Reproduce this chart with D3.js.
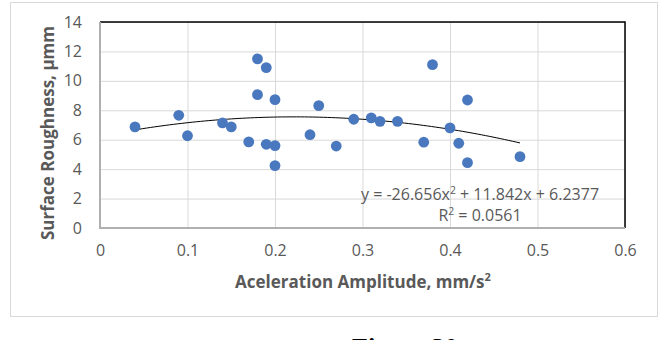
<!DOCTYPE html>
<html>
<head>
<meta charset="utf-8">
<script src="https://cdn.jsdelivr.net/npm/d3@7"></script>
<style>
  html, body { margin: 0; padding: 0; background: #fff; }
  svg { display: block; font-family: 'Open Sans', sans-serif; }
</style>
</head>
<body>
<svg id="chart"></svg>
<script>
'use strict';

// acceleration amplitude (mm/s^2) and surface roughness values
const accel = [0.04, 0.09, 0.10, 0.14, 0.15, 0.17, 0.18, 0.18, 0.19, 0.19, 0.20, 0.20, 0.20,
  0.24, 0.25, 0.27, 0.29, 0.31, 0.32, 0.34, 0.37, 0.38, 0.40, 0.41, 0.42, 0.42, 0.48];
const roughness = [6.87, 7.66, 6.27, 7.14, 6.87, 5.85, 11.49, 9.06, 10.9, 5.69, 8.72, 5.6, 4.24,
  6.34, 8.32, 5.57, 7.39, 7.48, 7.25, 7.25, 5.83, 11.1, 6.8, 5.76, 8.7, 4.44, 4.85];

const xTicks = [0, 0.1, 0.2, 0.3, 0.4, 0.5, 0.6];
const yTicks = [0, 2, 4, 6, 8, 10, 12, 14];

// polynomial trendline shown on the chart: y = a x^2 + b x + c
const trendCoef = [-26.656, 11.842, 6.2377];
const trendLabel = ['y = -26.656x', '2', ' + 11.842x + 6.2377'];
const r2Label = ['R', '2', ' = 0.0561'];

const W = 666, H = 340;
const plot = { left: 100, right: 625, top: 22, bottom: 228 };

const svg = d3.select('#chart').attr('width', W).attr('height', H);

// outer chart frame
svg.append('rect')
  .attr('x', 10.5).attr('y', 2.5)
  .attr('width', 647).attr('height', 314)
  .attr('fill', '#fff')
  .attr('stroke', '#d9d9d9');

const xScale = d3.scaleLinear().domain([0, 0.6]).range([plot.left, plot.right]);
const yScale = d3.scaleLinear().domain([0, 14]).range([plot.bottom, plot.top]);

// gridlines
svg.append('g')
  .attr('class', 'grid')
  .attr('transform', 'translate(0,' + plot.bottom + ')')
  .call(d3.axisBottom(xScale).tickValues(xTicks).tickSize(-(plot.bottom - plot.top)).tickFormat(''))
  .call(g => g.select('.domain').remove())
  .call(g => g.selectAll('line').attr('stroke', '#d9d9d9'));

svg.append('g')
  .attr('class', 'grid')
  .attr('transform', 'translate(' + plot.left + ',0)')
  .call(d3.axisLeft(yScale).tickValues(yTicks).tickSize(-(plot.right - plot.left)).tickFormat(''))
  .call(g => g.select('.domain').remove())
  .call(g => g.selectAll('line').attr('stroke', '#d9d9d9'));

// plot area border: dark top/right, grey axis lines left/bottom
svg.append('path')
  .attr('d', 'M' + plot.left + ',' + plot.top + 'H' + plot.right + 'V' + plot.bottom)
  .attr('fill', 'none')
  .attr('stroke', '#000')
  .attr('stroke-width', 1.5);

svg.append('path')
  .attr('d', 'M' + plot.left + ',' + plot.top + 'V' + plot.bottom + 'H' + plot.right)
  .attr('fill', 'none')
  .attr('stroke', '#b0b0b0')
  .attr('stroke-width', 2);

// tick labels
svg.append('g')
  .attr('class', 'axis axis--x')
  .attr('transform', 'translate(0,' + plot.bottom + ')')
  .call(d3.axisBottom(xScale).tickValues(xTicks).tickSize(0).tickPadding(17).tickFormat(d => String(d)))
  .call(g => g.select('.domain').remove());

svg.append('g')
  .attr('class', 'axis axis--y')
  .attr('transform', 'translate(' + plot.left + ',0)')
  .call(d3.axisLeft(yScale).tickValues(yTicks).tickSize(0).tickPadding(18).tickFormat(d => String(d)))
  .call(g => g.select('.domain').remove());

svg.selectAll('.axis text')
  .attr('font-family', "'Open Sans', sans-serif")
  .attr('font-size', 16)
  .attr('fill', '#595959');

// trendline
const trend = x => trendCoef[0] * x * x + trendCoef[1] * x + trendCoef[2];
const xMin = d3.min(accel), xMax = d3.max(accel);
const trendPts = d3.range(0, 101).map(i => xMin + (xMax - xMin) * i / 100);

svg.append('path')
  .datum(trendPts)
  .attr('fill', 'none')
  .attr('stroke', '#000')
  .attr('stroke-width', 1)
  .attr('d', d3.line().x(d => xScale(d)).y(d => yScale(trend(d))));

// points
svg.append('g')
  .selectAll('circle')
  .data(accel.map((x, i) => ({ x: x, y: roughness[i] })))
  .enter()
  .append('circle')
  .attr('cx', d => xScale(d.x))
  .attr('cy', d => yScale(d.y))
  .attr('r', 5.4)
  .attr('fill', '#4a78bf');

// labels with a superscript 2
function supText(sel, parts, size) {
  sel.append('tspan').text(parts[0]);
  sel.append('tspan').attr('dy', -size * 0.4).attr('font-size', size * 0.65).text(parts[1]);
  sel.append('tspan').attr('dy', size * 0.4).text(parts[2]);
}

svg.append('text')
  .attr('x', 480).attr('y', 200)
  .attr('text-anchor', 'middle')
  .attr('font-size', 16)
  .attr('fill', '#595959')
  .call(supText, trendLabel, 16);

svg.append('text')
  .attr('x', 480).attr('y', 221)
  .attr('text-anchor', 'middle')
  .attr('font-size', 16)
  .attr('fill', '#595959')
  .call(supText, r2Label, 16);

// axis titles
svg.append('text')
  .attr('x', 363).attr('y', 288)
  .attr('text-anchor', 'middle')
  .attr('font-size', 17)
  .attr('font-weight', 'bold')
  .attr('fill', '#595959')
  .call(supText, ['Aceleration Amplitude, mm/s', '2', ''], 17);

svg.append('text')
  .attr('transform', 'translate(54,133) rotate(-90)')
  .attr('text-anchor', 'middle')
  .attr('font-size', 17)
  .attr('font-weight', 'bold')
  .attr('fill', '#595959')
  .text('Surface Roughness, μmm');

// caption below the chart, cut off by the page edge as in the source
svg.append('text')
  .attr('x', 352).attr('y', 356)
  .attr('font-family', "'Liberation Serif', serif")
  .attr('font-size', 26)
  .attr('font-weight', 'bold')
  .attr('fill', '#000')
  .text('Figure 30');
</script>
</body>
</html>
